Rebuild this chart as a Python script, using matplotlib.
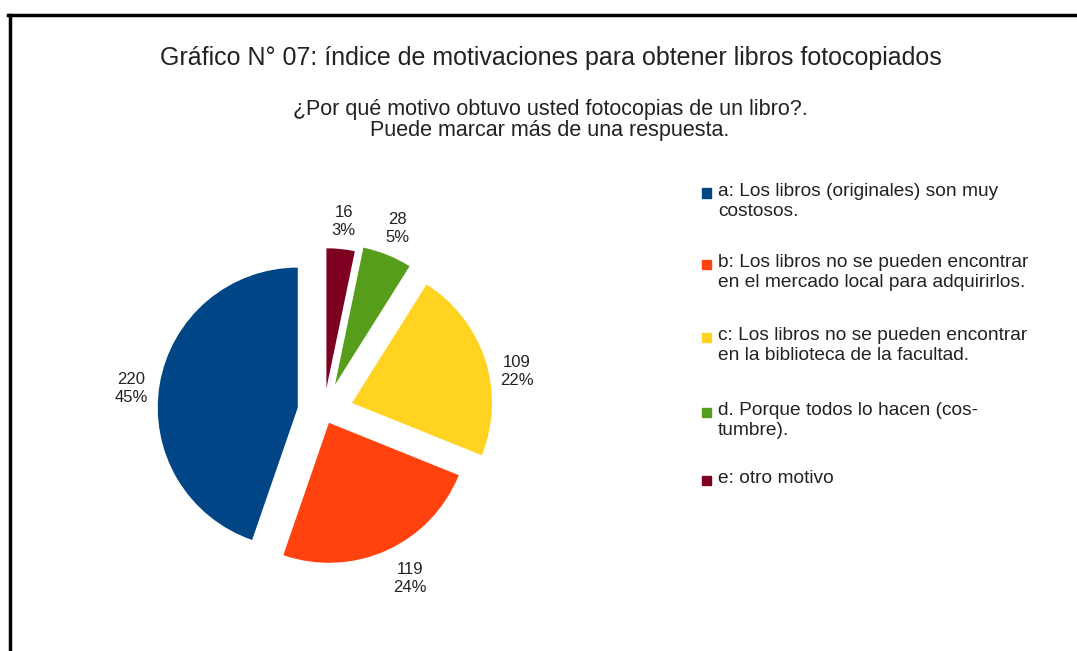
import numpy as np
import matplotlib.pyplot as plt
from matplotlib.patches import Rectangle
from matplotlib.lines import Line2D

plt.rcParams['font.family'] = ['Liberation Sans', 'DejaVu Sans']

W, H = 1077, 651

title = "Gráfico N° 07: índice de motivaciones para obtener libros fotocopiados"
subtitle = "¿Por qué motivo obtuvo usted fotocopias de un libro?.\nPuede marcar más de una respuesta."

counts = [220, 119, 109, 28, 16]
pct_labels = ["45%", "24%", "22%", "5%", "3%"]
legend_labels = [
    "a: Los libros (originales) son muy\ncostosos.",
    "b: Los libros no se pueden encontrar\nen el mercado local para adquirirlos.",
    "c: Los libros no se pueden encontrar\nen la biblioteca de la facultad.",
    "d. Porque todos lo hacen (cos-\ntumbre).",
    "e: otro motivo",
]
colors = ["#004586", "#ff420e", "#ffd320", "#579d1c", "#7e0021"]
explode = [0.19, 0.085, 0.21, 0.21, 0.17]
label_shift = [3, 3, -7, 0, 0]   # degrees, nudges the value labels
label_dist = [1.2, 1.25, 1.2, 1.2, 1.2]


def fx(px):
    return px / W


def fy(py):
    return 1 - py / H


fig = plt.figure(figsize=(W / 100, H / 100), dpi=100)

# pie: centre ~ (324, 412) px, radius ~ 140 px
cx, cy, r, half = 324, 412, 140, 210
ax = fig.add_axes([fx(cx - half), fy(cy + half), 2 * half / W, 2 * half / H])
wedges, _ = ax.pie(counts, colors=colors, explode=explode, startangle=90,
                   counterclock=True, wedgeprops={'linewidth': 0})
ax.set_xlim(-half / r, half / r)
ax.set_ylim(-half / r, half / r)
ax.set_aspect('equal')

for w, c, p, s, d in zip(wedges, counts, pct_labels, label_shift, label_dist):
    th = np.deg2rad((w.theta1 + w.theta2) / 2 + s)
    x = w.center[0] + d * w.r * np.cos(th)
    y = w.center[1] + d * w.r * np.sin(th)
    ax.text(x, y, f"{c}\n{p}", ha='center', va='center', fontsize=12,
            color='#222222', linespacing=1.25)

fig.text(fx(551), fy(58), title, ha='center', va='center', fontsize=18, color='#222222')
fig.text(fx(550), fy(120), subtitle, ha='center', va='center', fontsize=15.5,
         color='#222222', linespacing=1.0)

# legend
leg_y = [193, 264, 337, 412, 480]
for col, lab, y in zip(colors, legend_labels, leg_y):
    fig.add_artist(Rectangle((fx(702), fy(y + 4.5)), fx(9), 9 / H, color=col,
                             transform=fig.transFigure))
    fig.text(fx(718), fy(y - 10), lab, ha='left', va='top', fontsize=13.8,
             color='#222222', linespacing=1.2)

# frame lines (top and left)
fig.add_artist(Line2D([fx(8), 1], [fy(14.5), fy(14.5)], color='black', linewidth=2.5))
fig.add_artist(Line2D([fx(9.5), fx(9.5)], [fy(14.5), 0], color='black', linewidth=2.5))

fig.savefig("out.png", dpi=100)
